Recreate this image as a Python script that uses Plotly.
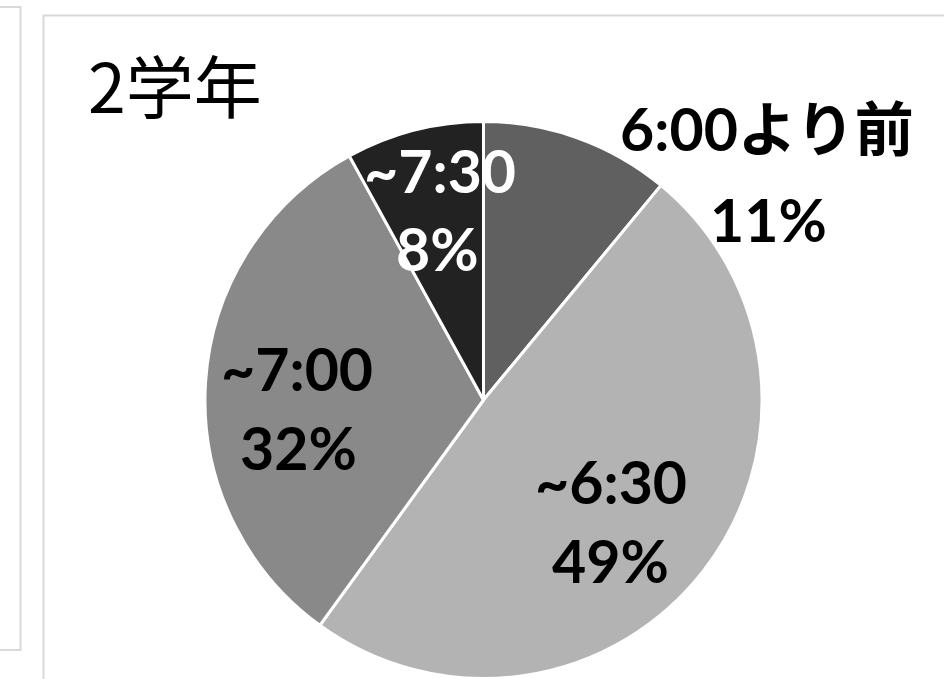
import plotly.graph_objects as go

# Data
categories = ["6:00より前", "~6:30", "~7:00", "~7:30"]
values = [11, 49, 32, 8]
colors = ["#606060", "#b3b3b3", "#898989", "#222222"]
text_colors = ["#000000", "#000000", "#000000", "#ffffff"]
title_text = "2学年"

W, H = 944, 679

def px(x):
    return x / W

def py(y):
    return 1 - y / H

fig = go.Figure(go.Pie(
    labels=categories,
    values=values,
    sort=False,
    direction="clockwise",
    rotation=0,
    marker=dict(colors=colors, line=dict(color="#ffffff", width=3)),
    textinfo="none",
    hoverinfo="label+percent",
    showlegend=False,
    domain=dict(x=[px(205.0), px(762.0)], y=[py(678.5), py(121.5)]),
))

# label positions (pixel centres of the two text lines)
label_pos = [(767, 128, 768, 220), (611, 481, 610, 560), (297, 369, 298, 447), (440, 170, 437, 248)]
total = sum(values)
font_lbl = "Lato, 'Noto Sans CJK JP', sans-serif"
annotations = []
for cat, v, tc, (x1, y1, x2, y2) in zip(categories, values, text_colors, label_pos):
    pct = round(100 * v / total)
    annotations.append(dict(text=f"<b>{cat}</b>", x=px(x1), y=py(y1), xref="paper", yref="paper",
                            xanchor="center", yanchor="middle", showarrow=False,
                            font=dict(family=font_lbl, size=59, color=tc)))
    annotations.append(dict(text=f"<b>{pct}%</b>", x=px(x2), y=py(y2), xref="paper", yref="paper",
                            xanchor="center", yanchor="middle", showarrow=False,
                            font=dict(family=font_lbl, size=59, color=tc)))

annotations.append(dict(text=title_text, x=px(175), y=py(83), xref="paper", yref="paper",
                        xanchor="center", yanchor="middle", showarrow=False,
                        font=dict(family="'Noto Sans CJK JP', sans-serif", size=68, color="#000000")))

shapes = [
    dict(type="rect", xref="paper", yref="paper", x0=px(-20), x1=px(20.5), y0=py(650), y1=py(7),
         line=dict(color="#d9d9d9", width=2), layer="below"),
    dict(type="rect", xref="paper", yref="paper", x0=px(43.5), x1=px(990), y0=py(720), y1=py(15.5),
         line=dict(color="#d9d9d9", width=2), layer="below"),
]

fig.update_layout(
    width=W, height=H,
    margin=dict(l=0, r=0, t=0, b=0),
    paper_bgcolor="#ffffff",
    plot_bgcolor="#ffffff",
    annotations=annotations,
    shapes=shapes,
)

fig.write_html("out.html")
